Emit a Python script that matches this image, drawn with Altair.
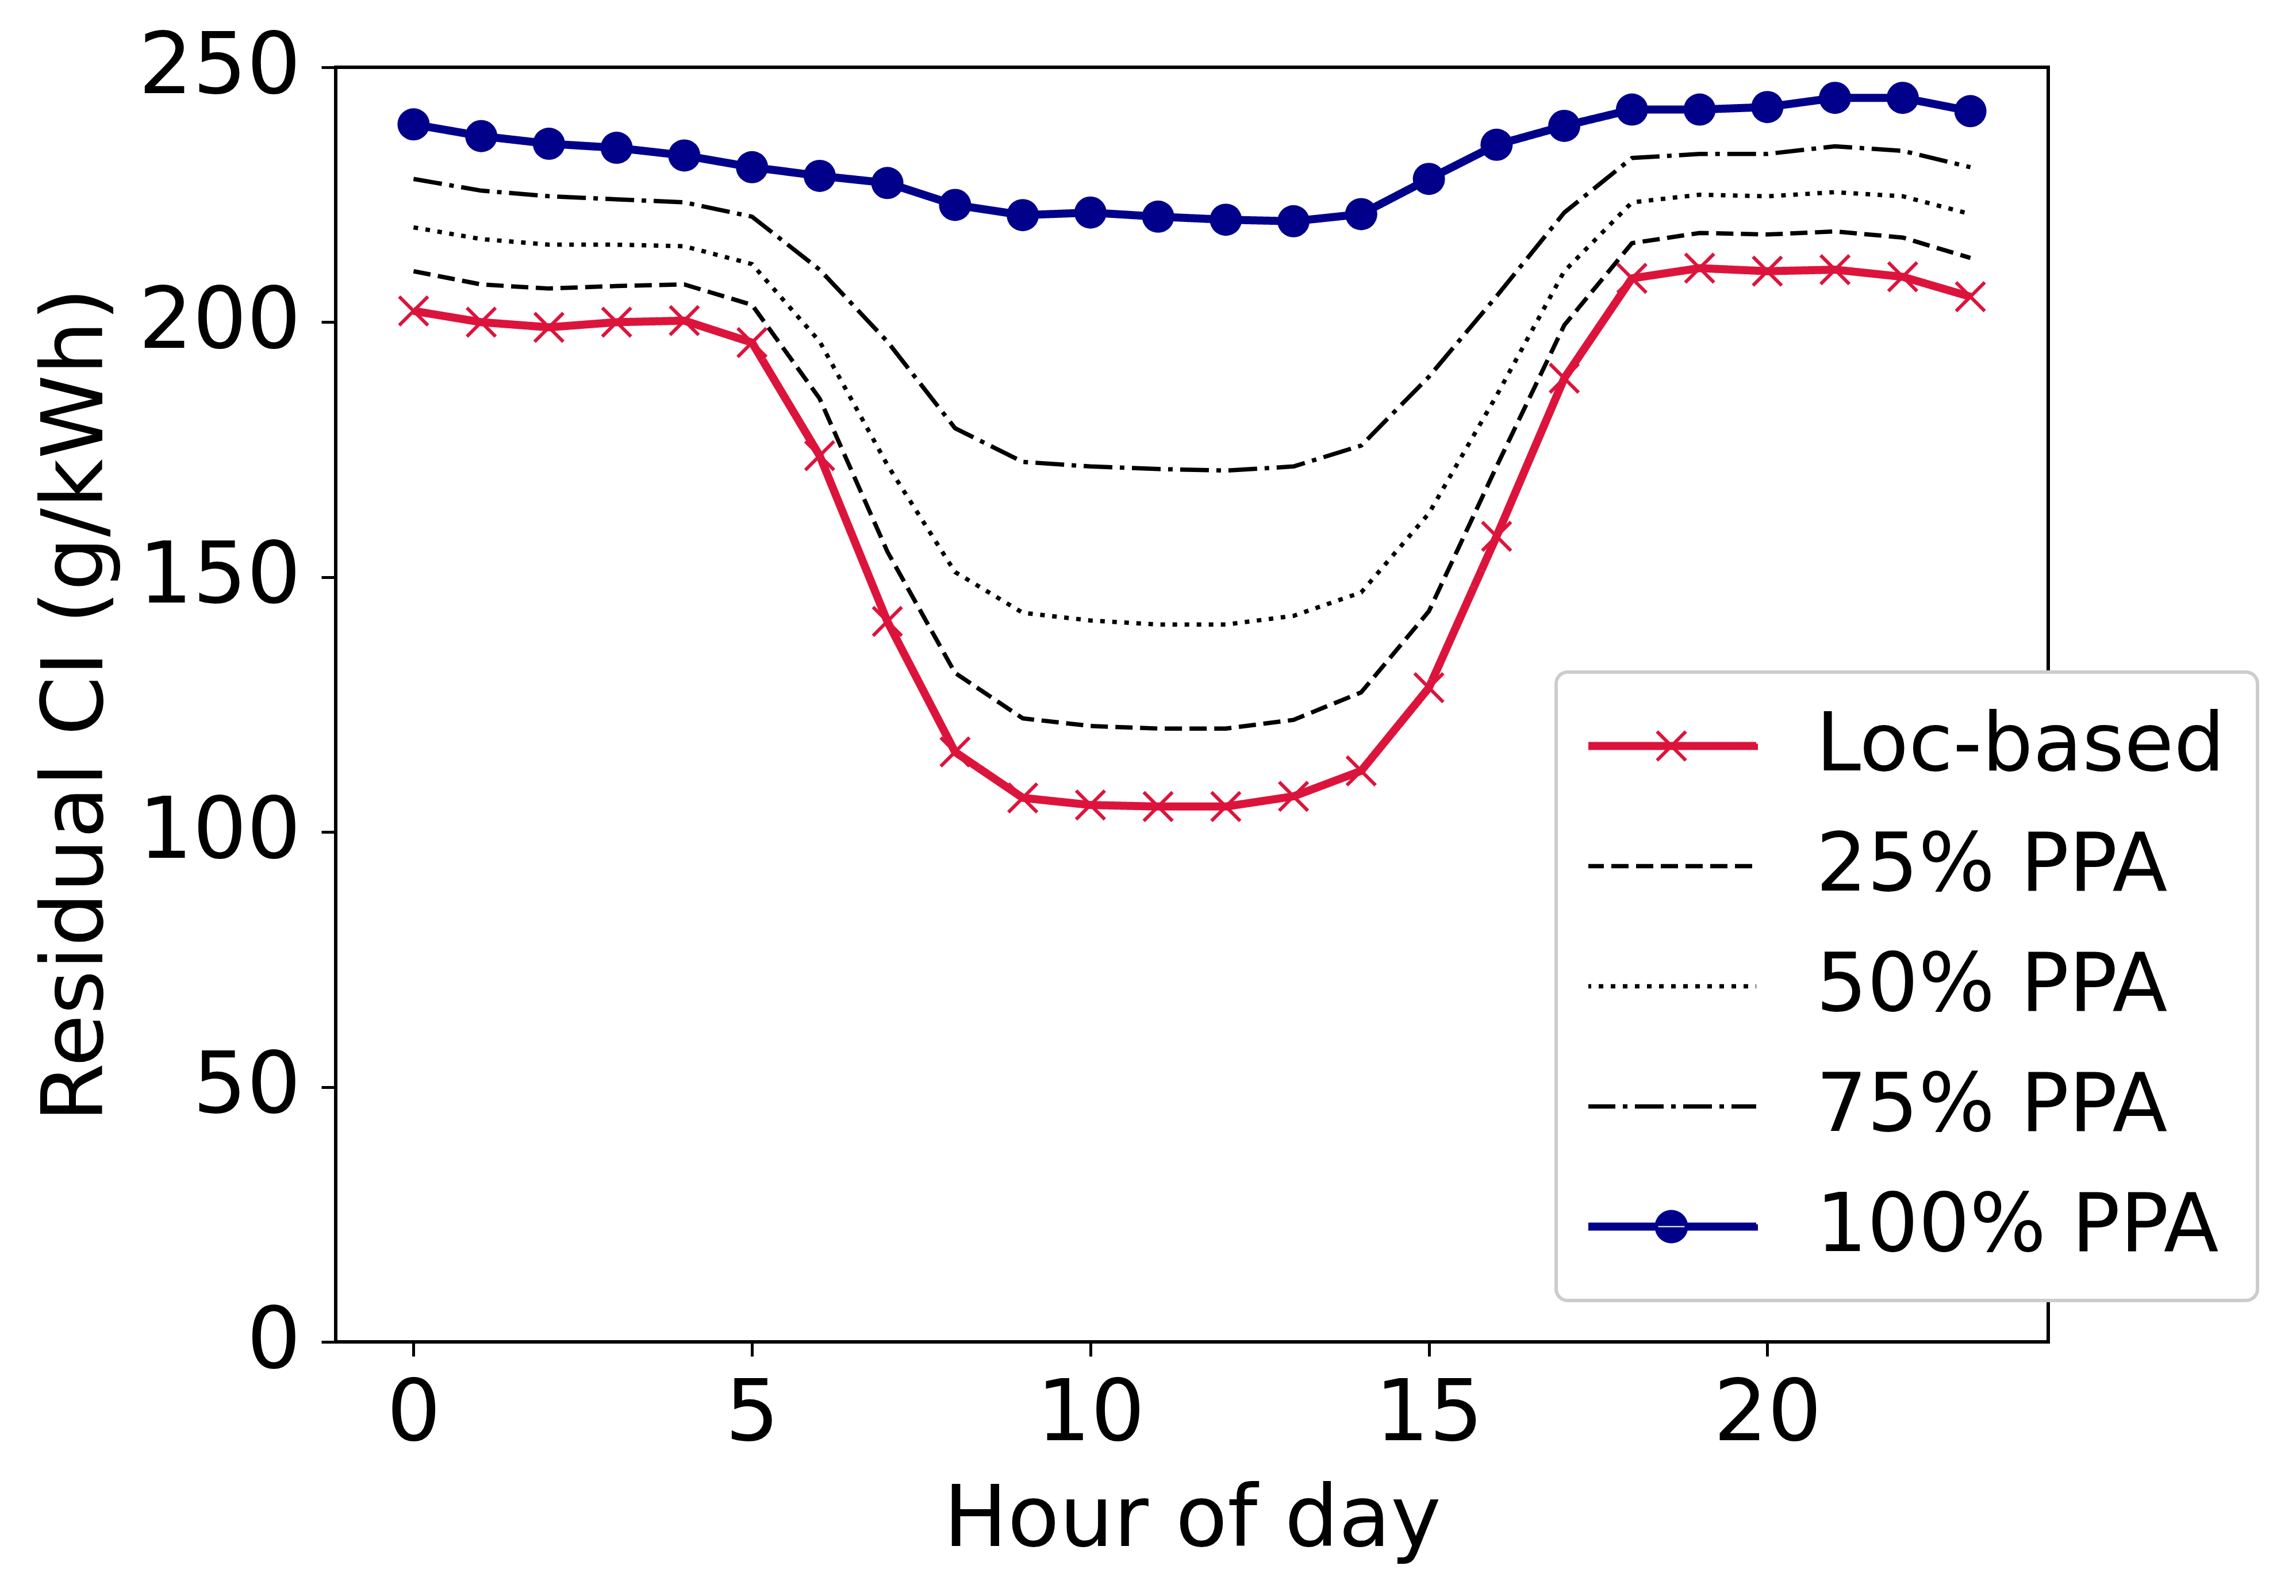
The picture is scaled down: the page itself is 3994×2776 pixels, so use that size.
import altair as alt
import pandas as pd

# ---------------- data ----------------
hours = list(range(24))
series_names = ["Loc-based", "25% PPA", "50% PPA", "75% PPA", "100% PPA"]

loc_based = [202.2, 200.0, 199.0, 200.0, 200.3, 196.0, 173.8, 141.3, 115.7, 106.7, 105.3, 105.0,
             105.0, 107.0, 112.0, 128.3, 158.0, 189.0, 208.6, 210.6, 210.0, 210.3, 208.9, 205.0]
ppa25 = [210.0, 207.4, 206.6, 207.1, 207.4, 203.4, 185.0, 155.0, 131.2, 122.3, 120.8, 120.3,
         120.3, 122.0, 127.4, 143.3, 171.7, 199.4, 215.5, 217.5, 217.2, 217.8, 216.6, 212.6]
ppa50 = [218.6, 216.3, 215.2, 215.2, 214.9, 211.4, 196.2, 172.0, 151.0, 143.0, 141.5, 140.7,
         140.7, 142.4, 147.0, 162.5, 185.6, 210.0, 223.5, 225.0, 224.7, 225.5, 224.7, 221.2]
ppa75 = [228.1, 225.8, 224.7, 224.1, 223.5, 220.7, 210.3, 196.2, 179.2, 172.6, 171.7, 171.2,
         170.9, 171.7, 175.8, 189.3, 205.1, 221.5, 232.2, 233.0, 233.0, 234.5, 233.6, 230.4]
ppa100 = [238.8, 236.5, 235.0, 234.2, 232.7, 230.4, 228.7, 227.3, 223.0, 221.0, 221.5, 220.7,
          220.1, 219.8, 221.2, 228.1, 234.8, 238.5, 241.7, 241.7, 242.2, 244.0, 244.0, 241.4]
series_values = [loc_based, ppa25, ppa50, ppa75, ppa100]

x_ticks = [0, 5, 10, 15, 20]
y_ticks = [0, 50, 100, 150, 200, 250]

# ---------------- styles ----------------
colors = ["#DC143C", "#000000", "#000000", "#000000", "#00008B"]
dashes = [[1, 0], [30, 13], [8, 13], [50, 13, 8, 13], [1, 0]]
widths = [14, 7.5, 7.5, 7.5, 14]
legend_widths = [6, 7.5, 7.5, 7.5, 6]

cross_path = "M-1,-1L1,1M-1,1L1,-1"
line_path = "M-1,0L1,0"
bar_path = "M-1,-0.027L1,-0.027L1,0.027L-1,0.027Z"
legend_paths = [
    bar_path + "M-0.17,-0.17L0.17,0.17M-0.17,0.17L0.17,-0.17",
    line_path,
    line_path,
    line_path,
    bar_path + "M-0.176,0A0.176,0.176 0 1,0 0.176,0A0.176,0.176 0 1,0 -0.176,0Z",
]

rows = []
for name, vals in zip(series_names, series_values):
    for h, v in zip(hours, vals):
        rows.append({"hour": h, "series": name, "value": v})
df = pd.DataFrame(rows)

FONT = "DejaVu Sans"

x_enc = alt.X(
    "hour:Q",
    scale=alt.Scale(domain=[-1.15, 24.15], nice=False, zero=False),
    axis=alt.Axis(title="Hour of day", values=x_ticks, format="d",
                  labelPadding=28, titlePadding=37),
)
y_enc = alt.Y(
    "value:Q",
    scale=alt.Scale(domain=[0, 250], nice=False),
    axis=alt.Axis(title="Residual CI (g/kWh)", values=y_ticks, format="d",
                  labelPadding=36, titlePadding=176),
)

base = alt.Chart(df)

layers = []
for name, c, d, w in zip(series_names, colors, dashes, widths):
    layers.append(
        base.transform_filter(alt.datum.series == name)
        .mark_line(color=c, strokeDash=d, strokeWidth=w, strokeJoin="round")
        .encode(x=x_enc, y=y_enc)
    )

layers.append(
    base.transform_filter(alt.datum.series == "Loc-based")
    .mark_point(shape=cross_path, filled=False, size=2500, strokeWidth=6,
                color=colors[0], opacity=1)
    .encode(x=x_enc, y=y_enc)
)
layers.append(
    base.transform_filter(alt.datum.series == "100% PPA")
    .mark_point(shape="circle", filled=True, size=3136, color=colors[4], opacity=1)
    .encode(x=x_enc, y=y_enc)
)

leg = alt.Legend(
    title=None, orient="none", legendX=2123, legendY=1052,
    padding=56, rowPadding=64, clipHeight=145,
    symbolSize=87025, symbolOffset=-7, labelOffset=100, symbolOpacity=1,
    labelFont=FONT, labelFontSize=140, labelColor="black", labelLimit=3000,
    fillColor="white", strokeColor="#cccccc", cornerRadius=20,
)

legend_layer = base.mark_point(opacity=0, filled=True).encode(
    x=x_enc, y=y_enc,
    shape=alt.Shape("series:N", scale=alt.Scale(domain=series_names, range=legend_paths), legend=leg),
    stroke=alt.Stroke("series:N", scale=alt.Scale(domain=series_names, range=colors), legend=leg),
    fill=alt.Fill("series:N", scale=alt.Scale(domain=series_names, range=colors), legend=leg),
    strokeDash=alt.StrokeDash("series:N", scale=alt.Scale(type="ordinal", domain=series_names, range=dashes), legend=leg),
    strokeWidth=alt.StrokeWidth("series:N", scale=alt.Scale(type="ordinal", domain=series_names, range=legend_widths), legend=leg),
)
layers.append(legend_layer)

chart = (
    alt.layer(*layers)
    .properties(
        width=2979, height=2217,
        autosize=alt.AutoSizeParams(type="none"),
        padding={"left": 576, "top": 109, "right": 423, "bottom": 434},
        background="white",
    )
    .configure_view(stroke="black", strokeWidth=6)
    .configure_axis(
        domain=False, grid=False,
        tickColor="black", tickWidth=5, tickSize=25,
        labelFont=FONT, labelFontSize=148, labelColor="black", labelLimit=2000,
        labelFlush=False, labelOverlap=False,
        titleFont=FONT, titleFontSize=148, titleFontWeight="normal", titleColor="black",
        titleLimit=4000,
    )
    .configure_legend(strokeWidth=6)
)

chart.save("out.html", embed_options={"renderer": "svg", "actions": False})
